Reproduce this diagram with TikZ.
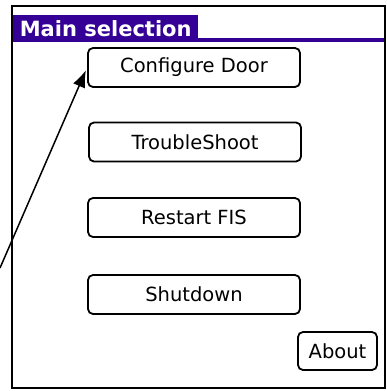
\documentclass[tikz,border=0pt]{standalone}
\usepackage{fontspec}
\setmainfont{DejaVu Sans}
\usepackage{xcolor}
\usetikzlibrary{arrows.meta, positioning}

\definecolor{palmpurple}{RGB}{52,0,150}

\begin{document}
\begin{tikzpicture}[
    x=1pt, y=-1pt,
    button/.style={rectangle, draw, line width=1.8pt, rounded corners=5pt, minimum width=212pt, minimum height=39pt, inner sep=0pt, font=\fontsize{19.5}{22}\selectfont},
    tab/.style={rectangle, fill=palmpurple, text=white, minimum width=185pt, minimum height=27pt, inner sep=0pt, font=\bfseries\fontsize{21}{24}\selectfont},
    arrow/.style={-{Latex[length=17pt, width=13pt]}, line width=1.5pt}
]
\useasboundingbox (0,0) rectangle (386,391);

% Screen frame and title bar
\draw[line width=2.5pt] (12,6) rectangle (385,388);
\fill[palmpurple] (13,38) rectangle (384,42);
\node[tab, anchor=north west] (title) at (13,15) {Main selection};

% Buttons
\node[button] (configure) at (194,67.5) {Configure Door};
\node[button] (trouble) at (195,142) {TroubleShoot};
\node[button] (restart) at (194,217.5) {Restart FIS};
\node[button] (shutdown) at (194,294.5) {Shutdown};
\node[button, minimum width=79pt, minimum height=38pt] (about) at (337.5,351) {About};

% Pointer
\coordinate (tail) at (0,268);
\draw[arrow, shorten >=3pt] (tail) -- (configure.west);

\end{tikzpicture}
\end{document}
